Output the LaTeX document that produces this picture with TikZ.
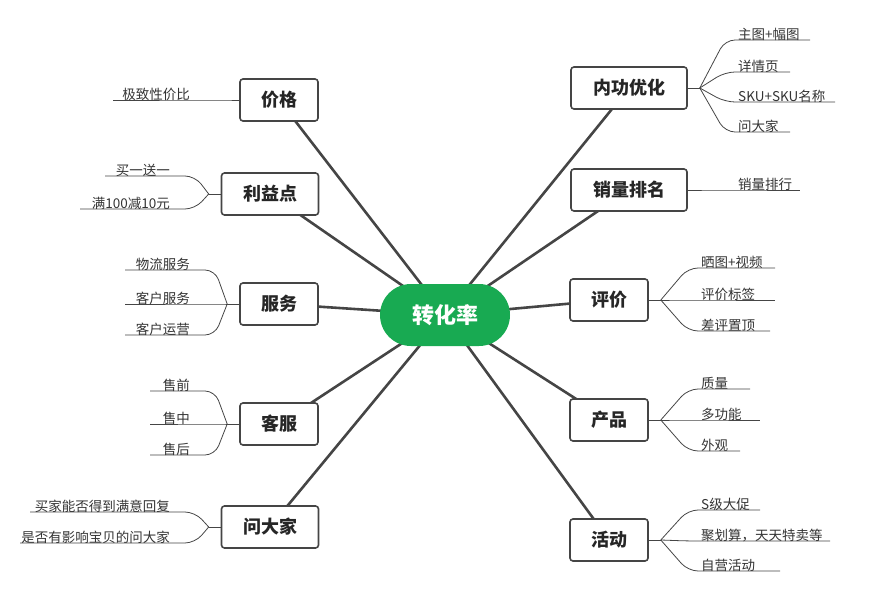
\documentclass[tikz,border=0pt]{standalone}
\usepackage{fontspec}
\newfontfamily\cjk{Noto Sans CJK SC}
\usetikzlibrary{calc,backgrounds}
\definecolor{cgreen}{HTML}{18AA52}
\definecolor{cline}{HTML}{454545}
\tikzset{
 main/.style={draw=cline,line width=1.6pt,rounded corners=3pt,fill=white,minimum height=42pt,inner xsep=6pt,font=\cjk\fontsize{18}{20}\selectfont\bfseries,text=black!85},
 conn/.style={draw=cline,line width=2.6pt},
 sub/.style={draw=cline,line width=0.8pt},
 lbl/.style={font=\cjk\fontsize{13.5}{15}\selectfont,text=black!80,inner sep=1pt},
}
\newcommand\rbr[6]{%
 \coordinate (#6s) at (#2,#4); \coordinate (#6e) at (#3,#4);
 \draw[sub,rounded corners=10pt] (#1) -- (#6s) -- (#6e);
 \node[lbl,anchor=south west] (#6) at ($(#6s)+(12,2)$) {#5};}
\newcommand\lbr[6]{%
 \coordinate (#6s) at (#2,#4); \coordinate (#6e) at (#3,#4);
 \draw[sub,rounded corners=10pt] (#1) -- (#6s) -- (#6e);
 \node[lbl,anchor=south east] (#6) at ($(#6s)+(-24,2)$) {#5};}
\begin{document}
\begin{tikzpicture}[x=1pt,y=-1pt]
\useasboundingbox (0,0) rectangle (879,599);
\node[fill=cgreen,rounded corners=31pt,minimum width=130pt,minimum height=62pt,font=\cjk\fontsize{22}{24}\selectfont\bfseries,text=white] (c) at (445,315) {转化率};
% left
\node[main,minimum width=78pt] (p1) at (279,100) {价格};
\node[main,minimum width=97pt] (p2) at (270,194) {利益点};
\node[main,minimum width=78pt] (p3) at (279,304) {服务};
\node[main,minimum width=78pt] (p4) at (279,424) {客服};
\node[main,minimum width=97pt] (p5) at (270,527) {问大家};
% right
\node[main,minimum width=116pt] (q1) at (629,88) {内功优化};
\node[main,minimum width=116pt] (q2) at (629,190) {销量排名};
\node[main,minimum width=78pt] (q3) at (609,300) {评价};
\node[main,minimum width=78pt] (q4) at (609,420) {产品};
\node[main,minimum width=78pt] (q5) at (609,540) {活动};
\begin{scope}[on background layer]
\foreach \n in {p1,p2,p3,p4,p5,q1,q2,q3,q4,q5} \draw[conn] (c.center) -- (\n.center);
\end{scope}
% left branches
\lbr{p1.west}{215}{113}{100}{极致性价比}{a1}
\coordinate (f2) at ($(p2.west)+(-12,0)$); \draw[sub] (p2.west) -- (f2);
\lbr{f2}{195}{105}{176}{买一送一}{b1}
\lbr{f2}{195}{80}{209}{满100减10元}{b2}
\coordinate (f3) at ($(p3.west)+(-12,0)$); \draw[sub] (p3.west) -- (f3);
\lbr{f3}{215}{125}{270}{物流服务}{c1}
\lbr{f3}{215}{125}{304}{客户服务}{c2}
\lbr{f3}{215}{125}{335}{客户运营}{c3}
\coordinate (f4) at ($(p4.west)+(-12,0)$); \draw[sub] (p4.west) -- (f4);
\lbr{f4}{215}{150}{391}{售前}{d1}
\lbr{f4}{215}{150}{424}{售中}{d2}
\lbr{f4}{215}{150}{455}{售后}{d3}
\coordinate (f5) at ($(p5.west)+(-12,0)$); \draw[sub] (p5.west) -- (f5);
\lbr{f5}{195}{30}{512}{买家能否得到满意回复}{e1}
\lbr{f5}{195}{20}{543}{是否有影响宝贝的问大家}{e2}
% right branches
\coordinate (g1) at ($(q1.east)+(12,0)$); \draw[sub] (q1.east) -- (g1);
\rbr{g1}{725}{810}{40}{主图+幅图}{h1}
\rbr{g1}{725}{790}{72}{详情页}{h2}
\rbr{g1}{725}{835}{102}{SKU+SKU名称}{h3}
\rbr{g1}{725}{790}{132}{问大家}{h4}
\rbr{q2.east}{725}{800}{190}{销量排行}{i1}
\coordinate (g3) at ($(q3.east)+(12,0)$); \draw[sub] (q3.east) -- (g3);
\rbr{g3}{688}{775}{268}{晒图+视频}{j1}
\rbr{g3}{688}{775}{300}{评价标签}{j2}
\rbr{g3}{688}{770}{331}{差评置顶}{j3}
\coordinate (g4) at ($(q4.east)+(12,0)$); \draw[sub] (q4.east) -- (g4);
\rbr{g4}{688}{750}{389}{质量}{k1}
\rbr{g4}{688}{760}{420}{多功能}{k2}
\rbr{g4}{688}{740}{451}{外观}{k3}
\coordinate (g5) at ($(q5.east)+(12,0)$); \draw[sub] (q5.east) -- (g5);
\rbr{g5}{688}{760}{510}{S级大促}{l1}
\rbr{g5}{688}{830}{541}{聚划算，天天特卖等}{l2}
\rbr{g5}{688}{780}{571}{自营活动}{l3}
\end{tikzpicture}
\end{document}
